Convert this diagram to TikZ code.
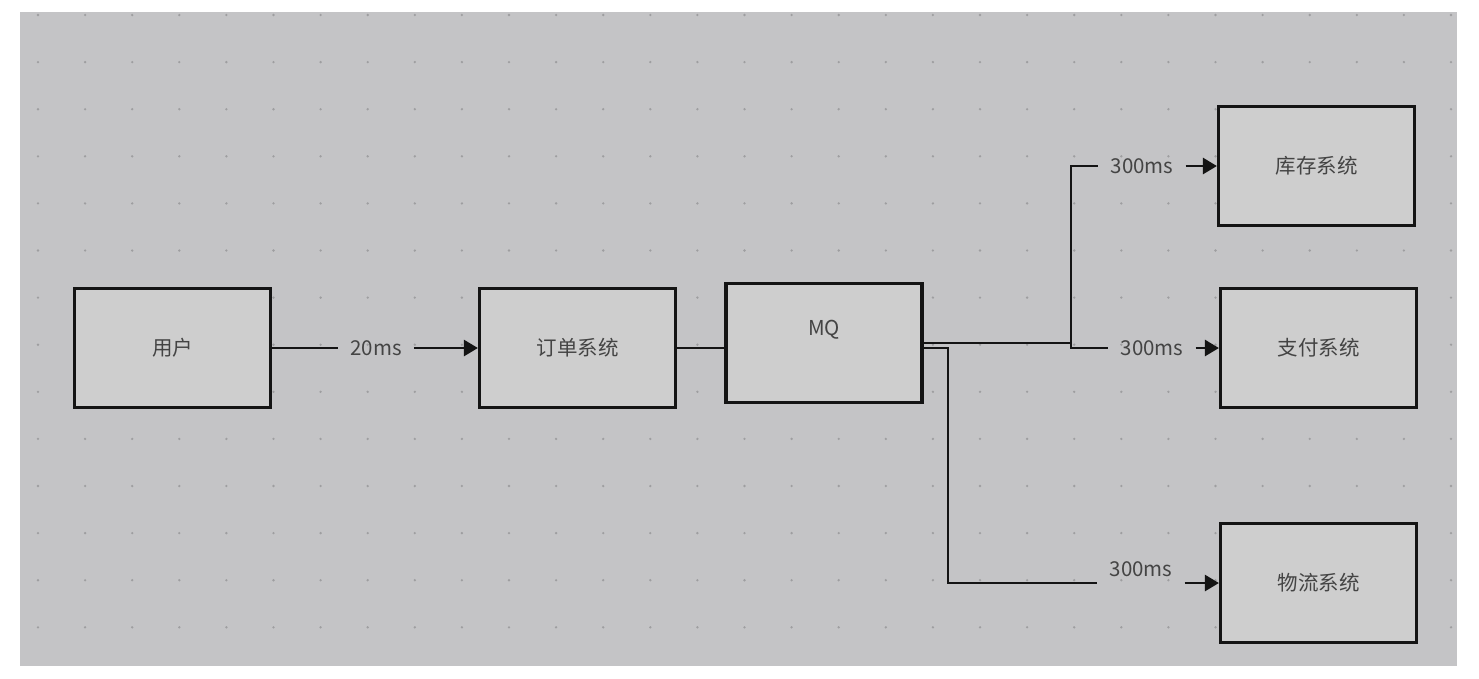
\documentclass[tikz,border=0pt]{standalone}
\usepackage{fontspec}
\setmainfont{Noto Sans CJK SC}
\usetikzlibrary{arrows.meta}
\definecolor{pagebg}{RGB}{255,255,255}
\definecolor{canvasbg}{RGB}{196,196,198}
\definecolor{boxfill}{RGB}{206,206,206}
\definecolor{txtc}{RGB}{68,68,68}
\definecolor{dotc}{RGB}{158,158,160}
\definecolor{linec}{RGB}{20,20,20}
\begin{document}
\begin{tikzpicture}[x=1pt,y=-1pt,
  sysbox/.style={draw=linec, line width=3.2pt, fill=boxfill, minimum width=196pt, minimum height=119pt, inner sep=0pt, text=txtc, font=\fontsize{20.5}{24}\selectfont},
  lbl/.style={text=txtc, font=\fontsize{20.5}{24}\selectfont, inner xsep=12pt, inner ysep=0pt},
  conn/.style={draw=linec, line width=2.6pt},
  arr/.style={conn, -{Triangle[length=14pt,width=16pt]}}]
\useasboundingbox (0,0) rectangle (1479,678);
\fill[pagebg] (0,0) rectangle (1479,678);
\fill[canvasbg] (20,12) rectangle (1457,666);
\foreach \i in {0,...,30} {
  \foreach \j in {0,...,13} {
    \fill[dotc] (38+47.1*\i, 15+47.1*\j) circle (1.3pt);
  }
}
% boxes
\node[sysbox] (user)  at (172.5,348) {用户};
\node[sysbox] (order) at (577.5,348) {订单系统};
\node[sysbox] (mq)    at (824,343)   {\raisebox{30pt}{MQ}};
\node[sysbox] (kc)    at (1316.5,166) {库存系统};
\node[sysbox] (zf)    at (1318.5,348) {支付系统};
\node[sysbox] (wl)    at (1318.5,583) {物流系统};
% labels
\node[lbl] (l1) at (376,348)  {20ms};
\node[lbl] (l2) at (1142,166) {300ms};
\node[lbl] (l3) at (1152,348) {300ms};
\node[lbl] (l4) at (1141,569) {300ms};
% junctions
\coordinate (j1) at (1071,343);
\coordinate (j2) at (948,348);
% connectors
\draw[conn] (user.east) -- (l1.west);
\draw[arr]  (l1.east) -- (order.west);
\draw[conn] (order.east) -- (mq.west |- order.east);
\draw[conn] (mq.east) -- (j1) |- (l2.west);
\draw[arr]  (l2.east) -- (kc.west);
\draw[conn] (j1) |- (l3.west);
\draw[arr]  (l3.east) -- (zf.west);
\draw[conn] (mq.east |- j2) -- (j2) |- (l4.west |- wl.west);
\draw[arr]  (l4.east |- wl.west) -- (wl.west);
\end{tikzpicture}
\end{document}
